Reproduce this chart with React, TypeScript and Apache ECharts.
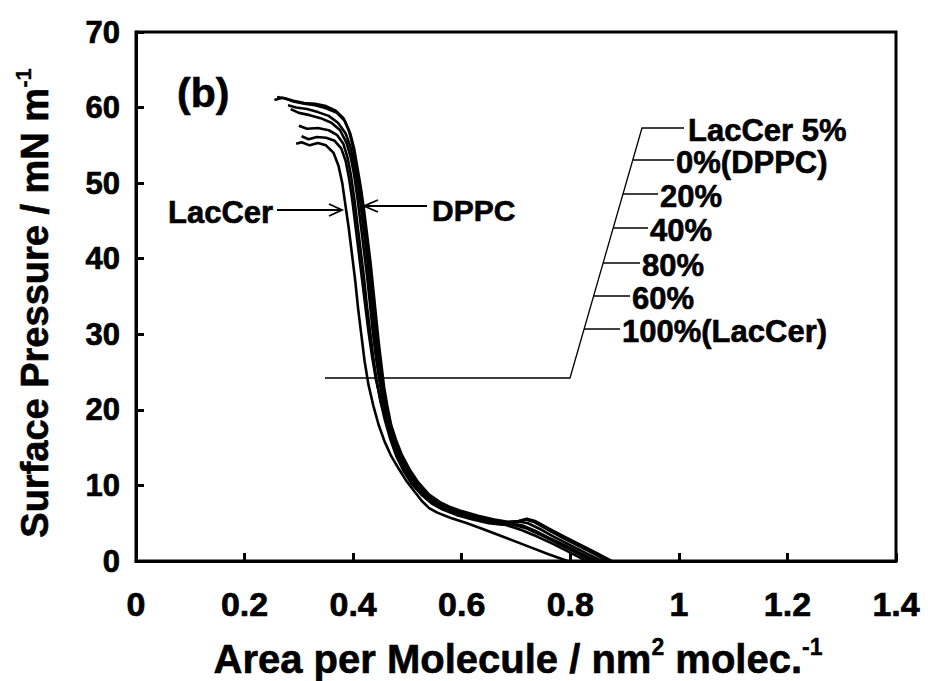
import React, { useEffect, useRef } from "react";
import * as echarts from "echarts";

// Area per molecule (nm^2) vs surface pressure (mN/m)
const c5: number[][] = [[0.876,0],[0.85,1.0],[0.82,2.1],[0.79,3.2],[0.76,4.3],[0.735,5.3],[0.72,5.6],[0.705,5.3],[0.685,5.2],[0.66,5.5],[0.63,6.0],[0.60,6.6],[0.58,7.1],[0.56,7.8],[0.54,8.8],[0.52,10.4],[0.505,12.0],[0.49,14.0],[0.48,15.8],[0.47,18.0],[0.463,20.5],[0.457,23.0],[0.452,26.0],[0.447,29.0],[0.442,32.5],[0.437,36.0],[0.432,39.5],[0.426,43.0],[0.42,46.5],[0.414,49.5],[0.408,52.0],[0.402,54.5],[0.395,56.5],[0.385,58.2],[0.37,59.3],[0.35,59.9],[0.33,60.3],[0.31,60.5],[0.29,60.8],[0.275,61.2],[0.26,61.4]];
const c0: number[][] = [[0.868,0],[0.845,0.9],[0.815,2.0],[0.785,3.1],[0.755,4.3],[0.732,5.2],[0.718,5.5],[0.70,5.2],[0.68,5.1],[0.655,5.4],[0.625,5.9],[0.595,6.5],[0.575,7.0],[0.555,7.7],[0.535,8.8],[0.518,10.3],[0.502,12.0],[0.488,14.0],[0.477,16.0],[0.468,18.2],[0.46,20.8],[0.454,23.5],[0.448,26.5],[0.443,29.5],[0.438,33.0],[0.433,36.5],[0.428,40.0],[0.423,43.5],[0.417,47.0],[0.411,50.0],[0.405,52.5],[0.399,55.0],[0.392,57.0],[0.382,58.6],[0.368,59.6],[0.35,60.2],[0.33,60.5],[0.31,60.6],[0.29,60.9],[0.27,61.3],[0.255,61.0]];
const c20: number[][] = [[0.858,0],[0.83,1.0],[0.80,2.1],[0.77,3.2],[0.745,4.2],[0.722,5.0],[0.708,5.2],[0.69,5.0],[0.665,5.1],[0.64,5.5],[0.61,6.0],[0.585,6.6],[0.56,7.3],[0.54,8.2],[0.522,9.5],[0.507,11.1],[0.493,13.0],[0.48,15.2],[0.47,17.5],[0.461,20.0],[0.453,23.0],[0.447,26.0],[0.441,29.5],[0.436,33.0],[0.431,36.5],[0.426,40.0],[0.42,43.5],[0.414,47.0],[0.408,50.0],[0.402,52.5],[0.395,54.8],[0.386,56.6],[0.372,58.0],[0.355,58.9],[0.335,59.4],[0.315,59.8],[0.295,60.0],[0.28,60.3]];
const c40: number[][] = [[0.848,0],[0.82,1.0],[0.79,2.1],[0.76,3.1],[0.735,4.0],[0.712,4.7],[0.695,4.9],[0.675,4.8],[0.65,5.0],[0.62,5.5],[0.59,6.1],[0.565,6.8],[0.545,7.6],[0.527,8.7],[0.512,10.0],[0.498,11.7],[0.485,13.6],[0.473,15.8],[0.463,18.2],[0.455,21.0],[0.448,24.0],[0.442,27.0],[0.436,30.5],[0.431,34.0],[0.426,37.5],[0.42,41.0],[0.414,44.5],[0.408,48.0],[0.402,51.0],[0.396,53.3],[0.388,55.3],[0.376,57.0],[0.36,58.0],[0.34,58.6],[0.32,59.0],[0.30,59.3],[0.285,59.8]];
const c80: number[][] = [[0.83,0],[0.80,1.1],[0.77,2.2],[0.74,3.2],[0.71,4.1],[0.68,4.8],[0.65,5.2],[0.62,5.7],[0.59,6.2],[0.565,6.9],[0.545,7.7],[0.526,8.8],[0.508,10.2],[0.493,11.9],[0.48,13.8],[0.469,16.0],[0.459,18.5],[0.45,21.2],[0.443,24.0],[0.437,27.0],[0.431,30.5],[0.425,34.0],[0.42,37.5],[0.414,41.0],[0.408,44.5],[0.402,48.0],[0.396,51.0],[0.39,53.3],[0.382,55.2],[0.37,56.4],[0.355,57.0],[0.335,57.3],[0.315,57.2],[0.30,57.6]];
const c60: number[][] = [[0.84,0],[0.81,1.1],[0.78,2.2],[0.75,3.3],[0.72,4.3],[0.69,4.9],[0.66,5.3],[0.63,5.8],[0.60,6.3],[0.57,7.0],[0.548,7.8],[0.529,9.0],[0.512,10.4],[0.497,12.1],[0.484,14.0],[0.472,16.2],[0.461,18.6],[0.451,21.2],[0.442,24.0],[0.435,27.0],[0.428,30.5],[0.422,34.0],[0.416,37.5],[0.41,41.0],[0.404,44.5],[0.398,48.0],[0.392,50.8],[0.386,53.0],[0.378,54.6],[0.366,55.6],[0.35,56.0],[0.333,56.1],[0.318,55.8],[0.305,56.2]];
const c100: number[][] = [[0.795,0],[0.76,0.9],[0.72,2.0],[0.68,3.1],[0.64,4.2],[0.61,5.0],[0.58,5.7],[0.555,6.4],[0.54,7.0],[0.527,7.9],[0.513,9.2],[0.498,10.6],[0.484,12.2],[0.47,13.9],[0.458,15.8],[0.447,18.0],[0.437,20.6],[0.428,23.4],[0.421,26.5],[0.415,30.0],[0.409,33.5],[0.404,37.0],[0.398,40.5],[0.392,44.0],[0.386,47.0],[0.38,50.0],[0.373,52.3],[0.364,54.0],[0.35,55.0],[0.335,55.3],[0.32,55.0],[0.305,55.4],[0.295,55.2]];

const seriesNames: string[] = ["LacCer 5%", "0%(DPPC)", "20%", "40%", "80%", "60%", "100%(LacCer)"];
const seriesData: number[][][] = [c5, c0, c20, c40, c80, c60, c100];

const xTicks: number[] = [0, 0.2, 0.4, 0.6, 0.8, 1, 1.2, 1.4];
const yTicks: number[] = [0, 10, 20, 30, 40, 50, 60, 70];

const FONT = "'Liberation Sans', Arial, Helvetica, sans-serif";

export default function App() {
  const ref = useRef<HTMLDivElement>(null);
  useEffect(() => {
    if (!ref.current) return;
    const chart = echarts.init(ref.current, null, { renderer: "svg" });

    const labelYs = [130, 162, 196, 230, 265, 298, 331];
    const slopeX = (y: number) => 642 - ((y - 128) * 72) / 250;
    const labelX = [688, 676, 660, 650, 642, 632, 622];
    const heavy = { stroke: "#000", lineWidth: 0.6 };

    const graphics: any[] = [];
    // bracket
    graphics.push({
      type: "polyline",
      shape: { points: [[325, 378], [570, 378], [642, 128], [684, 128]] },
      style: { stroke: "#000", lineWidth: 1.3, fill: null },
    });
    seriesNames.forEach((name, i) => {
      if (i > 0) {
        graphics.push({
          type: "line",
          shape: { x1: slopeX(labelYs[i] - 2), y1: labelYs[i] - 2, x2: labelX[i] - 2, y2: labelYs[i] - 2 },
          style: { stroke: "#000", lineWidth: 1.3 },
        });
      }
      graphics.push({
        type: "text",
        x: labelX[i],
        y: labelYs[i],
        style: {
          text: name,
          font: `bold 31px ${FONT}`,
          fill: "#000",
          align: "left",
          verticalAlign: "middle",
          ...heavy,
        },
      });
    });
    // (b)
    graphics.push({
      type: "text",
      x: 177,
      y: 93,
      style: { text: "(b)", font: `bold 41px ${FONT}`, fill: "#000", align: "left", verticalAlign: "middle", ...heavy },
    });
    // LacCer arrow
    graphics.push({
      type: "text",
      x: 168,
      y: 212,
      style: { text: "LacCer", font: `bold 31px ${FONT}`, fill: "#000", align: "left", verticalAlign: "middle", ...heavy },
    });
    graphics.push({ type: "line", shape: { x1: 277, y1: 210, x2: 341, y2: 210 }, style: { stroke: "#000", lineWidth: 1.8 } });
    graphics.push({ type: "polyline", shape: { points: [[329, 204], [342, 210], [329, 216]] }, style: { stroke: "#000", lineWidth: 1.8, fill: null } });
    // DPPC arrow
    graphics.push({
      type: "text",
      x: 432,
      y: 210,
      style: { text: "DPPC", font: `bold 30px ${FONT}`, fill: "#000", align: "left", verticalAlign: "middle", ...heavy },
    });
    graphics.push({ type: "line", shape: { x1: 427, y1: 206, x2: 365, y2: 206 }, style: { stroke: "#000", lineWidth: 1.8 } });
    graphics.push({ type: "polyline", shape: { points: [[378, 200], [364, 206], [378, 212]] }, style: { stroke: "#000", lineWidth: 1.8, fill: null } });

    const richTitle = {
      a: { fontFamily: FONT, fontWeight: "bold", fontSize: 40, lineHeight: 44, verticalAlign: "bottom", fill: "#000", stroke: "#000", lineWidth: 0.6 },
      s: { fontFamily: FONT, fontWeight: "bold", fontSize: 23, lineHeight: 44, verticalAlign: "top", fill: "#000", stroke: "#000", lineWidth: 0.4 },
    };
    const richTitleY = {
      a: { ...richTitle.a, fontSize: 38, lineHeight: 42 },
      s: { ...richTitle.s, fontSize: 22, lineHeight: 42 },
    };
    // axis titles
    graphics.push({
      type: "text",
      x: 518,
      y: 657,
      style: {
        text: "{a|Area per Molecule / nm}{s|2}{a| molec.}{s|-1}",
        align: "center",
        verticalAlign: "middle",
        fill: "#000",
        rich: richTitle,
      },
    });
    graphics.push({
      type: "text",
      x: 33,
      y: 303,
      rotation: Math.PI / 2,
      style: {
        text: "{a|Surface Pressure / mN m}{s|-1}",
        align: "center",
        verticalAlign: "middle",
        fill: "#000",
        rich: richTitleY,
      },
    });

    chart.setOption({
      animation: false,
      backgroundColor: "#fff",
      grid: {
        left: 136,
        right: 32,
        top: 32,
        bottom: 120,
        show: true,
        borderColor: "#000",
        borderWidth: 3,
        backgroundColor: "transparent",
      },
      xAxis: {
        type: "value",
        min: xTicks[0],
        max: xTicks[xTicks.length - 1],
        interval: 0.2,
        axisLine: { show: true, onZero: false, lineStyle: { color: "#000", width: 3 } },
        axisTick: { show: true, inside: true, length: 8, lineStyle: { color: "#000", width: 3 } },
        splitLine: { show: false },
        axisLabel: {
          color: "#000",
          fontFamily: FONT,
          fontWeight: "bold",
          fontSize: 34,
          margin: 26,
          textBorderColor: "#000",
          textBorderWidth: 0.7,
          formatter: (v: number) => String(parseFloat(v.toFixed(1))),
        },
      },
      yAxis: {
        type: "value",
        min: yTicks[0],
        max: yTicks[yTicks.length - 1],
        interval: 10,
        axisLine: { show: true, onZero: false, lineStyle: { color: "#000", width: 3 } },
        axisTick: { show: true, inside: true, length: 8, lineStyle: { color: "#000", width: 3 } },
        splitLine: { show: false },
        axisLabel: {
          color: "#000",
          fontFamily: FONT,
          fontWeight: "bold",
          fontSize: 31,
          margin: 16,
          textBorderColor: "#000",
          textBorderWidth: 0.7,
        },
      },
      series: seriesData.map((d, i) => ({
        name: seriesNames[i],
        type: "line",
        data: d,
        showSymbol: false,
        symbol: "none",
        smooth: false,
        lineStyle: { color: "#000", width: 2.6 },
        z: 3,
      })),
      graphic: graphics,
    });
    return () => chart.dispose();
  }, []);
  return (
    <div
      ref={ref}
      style={{ position: "absolute", left: 0, top: 0, width: 928, height: 681, background: "#fff" }}
    />
  );
}
